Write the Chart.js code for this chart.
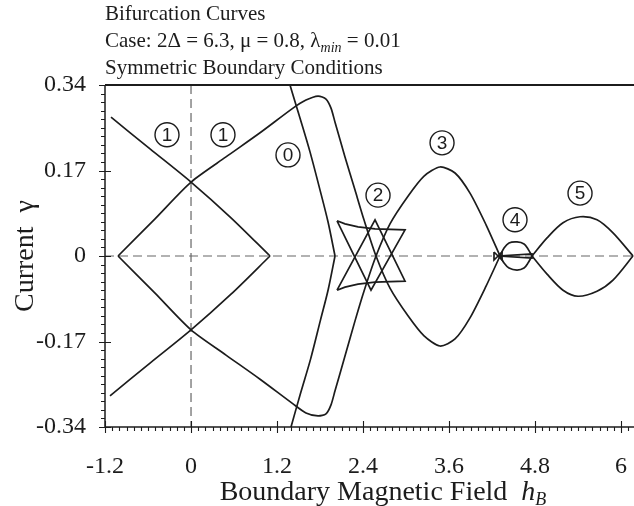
<!DOCTYPE html>
<html>
<head>
<meta charset="utf-8">
<script src="https://cdn.jsdelivr.net/npm/chart.js@4.4.1/dist/chart.umd.min.js"></script>
<style>
html, body { margin: 0; padding: 0; background: #fff; }
#wrap { width: 634px; height: 506px; position: relative; }
</style>
</head>
<body>
<div id="wrap"><canvas id="grafico"></canvas></div>
<script>
// tick labels
const xTickLabels = [-1.2, 0, 1.2, 2.4, 3.6, 4.8, 6];
const yTickLabels = [-0.34, -0.17, 0, 0.17, 0.34];

// branch 1 (the ">" pair)
const c1aUpperH = [-1.116, -0.572, 0, 0.558, 1.102];
const c1aUpperG = [0.276, 0.213, 0.147, 0.076, 0];
const c1aLowerH = [1.102, 0.558, 0, -0.572, -1.130];
const c1aLowerG = [0, -0.076, -0.147, -0.213, -0.278];

// branch 1 (the "<" pair) running into branch 3
const c1bH = [-1.018, -0.502, 0, 0.488, 0.963, 1.423, 1.604, 1.772, 1.883, 1.953, 2.009, 2.148, 2.288, 2.413, 2.581, 2.776, 3.027, 3.251, 3.474, 3.683, 3.892, 4.116, 4.311];
const c1bUpperG = [0, 0.074, 0.147, 0.197, 0.245, 0.294, 0.310, 0.318, 0.312, 0.294, 0.266, 0.197, 0.131, 0.072, 0, -0.064, -0.119, -0.159, -0.179, -0.165, -0.123, -0.060, 0];
const c1bLowerG = [0, -0.074, -0.147, -0.197, -0.245, -0.294, -0.312, -0.318, -0.314, -0.296, -0.268, -0.199, -0.129, -0.070, 0, 0.064, 0.119, 0.159, 0.177, 0.165, 0.125, 0.062, 0];

// branch 0
const c0UpperH = [1.325, 1.381, 1.521, 1.660, 1.800, 1.911, 2.009];
const c0UpperG = [0.370, 0.340, 0.274, 0.207, 0.131, 0.068, 0];
const c0LowerH = [2.009, 1.915, 1.805, 1.668, 1.530, 1.395, 1.339];
const c0LowerG = [0, -0.066, -0.128, -0.205, -0.272, -0.340, -0.370];

// branch 2 (star)
const c2DownH = [2.037, 2.148, 2.330, 2.567, 2.986, 2.511, 2.037];
const c2DownG = [0.070, 0.064, 0.058, 0.054, 0.052, -0.068, 0.070];
const c2UpH = [2.037, 2.148, 2.330, 2.567, 2.986, 2.567, 2.037];
const c2UpG = [-0.068, -0.062, -0.056, -0.052, -0.050, 0.072, -0.068];

// branch 4
const c4H = [4.311, 4.367, 4.436, 4.548, 4.646, 4.701, 4.757];
const c4UpperG = [0, 0.016, 0.026, 0.028, 0.024, 0.014, 0];
const c4LowerG = [0, -0.014, -0.024, -0.028, -0.024, -0.014, 0];
const c4WedgeH = [4.283, 4.757, 4.757, 4.283];
const c4WedgeG = [0, 0.004, -0.004, 0];
const c4TieH = [4.227, 4.339, 4.339, 4.227, 4.227];
const c4TieG = [0.008, -0.008, 0.008, -0.008, 0.008];

// branch 5
const c5UpperH = [4.757, 4.967, 5.190, 5.427, 5.664, 5.887, 6.166];
const c5UpperG = [0, 0.036, 0.066, 0.078, 0.072, 0.046, 0];
const c5LowerH = [4.757, 4.967, 5.190, 5.399, 5.664, 5.887, 6.166];
const c5LowerG = [0, -0.036, -0.068, -0.080, -0.070, -0.048, 0];

// circled branch numbers
const labelText = ['1', '1', '0', '2', '3', '4', '5'];
const labelH = [-0.335, 0.446, 1.353, 2.609, 3.502, 4.520, 5.427];
const labelG = [0.241, 0.241, 0.201, 0.121, 0.225, 0.072, 0.125];

const serif = '"Liberation Serif", "Times New Roman", serif';
const ink = '#1c1c1c';

function serie(h, g, tension) {
  return {
    data: h.map((v, i) => ({x: v, y: g[i]})),
    showLine: true,
    borderColor: ink,
    borderWidth: 1.7,
    pointRadius: 0,
    tension: tension,
    fill: false
  };
}

const decoracao = {
  id: 'decoracao',
  beforeDatasetsDraw(chart) {
    const {ctx, chartArea: a, scales: {x, y}} = chart;
    ctx.save();
    ctx.strokeStyle = '#666';
    ctx.lineWidth = 1.2;
    ctx.setLineDash([9, 5]);
    ctx.beginPath();
    const y0 = y.getPixelForValue(0);
    ctx.moveTo(a.left, y0);
    ctx.lineTo(a.right, y0);
    const x0 = x.getPixelForValue(0);
    ctx.moveTo(x0, a.top);
    ctx.lineTo(x0, a.bottom);
    ctx.stroke();
    ctx.restore();
  },
  afterDraw(chart) {
    const {ctx, chartArea: a, scales: {x, y}} = chart;
    ctx.save();
    ctx.strokeStyle = ink;
    ctx.fillStyle = ink;

    // frame
    ctx.lineWidth = 1.5;
    ctx.beginPath();
    ctx.moveTo(a.left, a.top);
    ctx.lineTo(a.left, a.bottom);
    ctx.lineTo(a.right, a.bottom);
    ctx.stroke();
    ctx.lineWidth = 2.2;
    ctx.beginPath();
    ctx.moveTo(a.left, a.top);
    ctx.lineTo(a.right, a.top);
    ctx.stroke();

    // ticks
    ctx.lineWidth = 1.1;
    ctx.beginPath();
    for (let i = 0; ; i++) {
      const v = -1.2 + i * 0.1;
      if (v > x.max + 1e-9) break;
      const px = Math.round(x.getPixelForValue(v)) + 0.5;
      const major = Math.abs(v / 1.2 - Math.round(v / 1.2)) < 1e-6;
      ctx.moveTo(px, a.bottom - (major ? 6 : 0));
      ctx.lineTo(px, a.bottom + (major ? 6 : 4));
    }
    for (let i = 0; i <= 40; i++) {
      const v = -0.34 + i * 0.017;
      const py = Math.round(y.getPixelForValue(v)) + 0.5;
      const major = i % 10 === 0;
      ctx.moveTo(a.left - (major ? 6 : 4), py);
      ctx.lineTo(a.left + (major ? 6 : 0), py);
    }
    ctx.stroke();

    // circled numbers
    ctx.lineWidth = 1.4;
    ctx.font = '19px "Liberation Sans", Arial, sans-serif';
    ctx.textAlign = 'center';
    ctx.textBaseline = 'middle';
    labelText.forEach((t, i) => {
      const px = x.getPixelForValue(labelH[i]);
      const py = y.getPixelForValue(labelG[i]);
      ctx.beginPath();
      ctx.arc(px, py, 12, 0, Math.PI * 2);
      ctx.stroke();
      ctx.fillText(t, px, py + 1);
    });

    // heading
    ctx.textAlign = 'left';
    ctx.textBaseline = 'alphabetic';
    ctx.font = '21px ' + serif;
    ctx.fillText('Bifurcation Curves', 105, 20);
    let cx = 105;
    const part1 = 'Case: 2\u0394 = 6.3, \u03bc = 0.8, \u03bb';
    ctx.fillText(part1, cx, 47);
    cx += ctx.measureText(part1).width;
    ctx.font = 'italic 14px ' + serif;
    ctx.fillText('min', cx, 52);
    cx += ctx.measureText('min').width;
    ctx.font = '21px ' + serif;
    ctx.fillText(' = 0.01', cx, 47);
    ctx.fillText('Symmetric Boundary Conditions', 105, 74);

    // x title
    const t1 = 'Boundary Magnetic Field  ';
    ctx.font = '28px ' + serif;
    const w1 = ctx.measureText(t1).width;
    ctx.font = 'italic 28px ' + serif;
    const w2 = ctx.measureText('h').width;
    ctx.font = 'italic 18px ' + serif;
    const w3 = ctx.measureText('B').width;
    let sx = 383 - (w1 + w2 + w3) / 2;
    ctx.font = '28px ' + serif;
    ctx.fillText(t1, sx, 500);
    sx += w1;
    ctx.font = 'italic 28px ' + serif;
    ctx.fillText('h', sx, 500);
    sx += w2;
    ctx.font = 'italic 18px ' + serif;
    ctx.fillText('B', sx, 505);

    // y title
    ctx.translate(33, 256);
    ctx.rotate(-Math.PI / 2);
    ctx.textAlign = 'center';
    ctx.font = '28px ' + serif;
    ctx.fillText('Current  \u03b3', 0, 0);
    ctx.restore();
  }
};

const ctx = document.getElementById('grafico').getContext('2d');

new Chart(ctx, {
  type: 'scatter',
  data: {
    datasets: [
      serie(c1aUpperH, c1aUpperG, 0.3),
      serie(c1aLowerH, c1aLowerG, 0.3),
      serie(c1bH, c1bUpperG, 0.25),
      serie(c1bH, c1bLowerG, 0.25),
      serie(c0UpperH, c0UpperG, 0.3),
      serie(c0LowerH, c0LowerG, 0.3),
      serie(c2DownH, c2DownG, 0),
      serie(c2UpH, c2UpG, 0),
      serie(c4H, c4UpperG, 0.3),
      serie(c4H, c4LowerG, 0.3),
      serie(c4WedgeH, c4WedgeG, 0),
      serie(c4TieH, c4TieG, 0),
      serie(c5UpperH, c5UpperG, 0.3),
      serie(c5LowerH, c5LowerG, 0.3)
    ]
  },
  options: {
    responsive: true,
    maintainAspectRatio: false,
    animation: false,
    layout: { padding: { top: 85, right: 0, left: 0, bottom: 0 } },
    plugins: {
      legend: { display: false },
      tooltip: { enabled: false }
    },
    scales: {
      x: {
        type: 'linear',
        min: -1.2,
        max: 6.18,
        grid: { display: false, drawTicks: false },
        border: { display: false },
        afterBuildTicks: s => { s.ticks = xTickLabels.map(v => ({value: v})); },
        afterFit: s => { s.height = 79; s.paddingLeft = 0; s.paddingRight = 0; },
        ticks: {
          autoSkip: false,
          maxRotation: 0,
          padding: 25,
          color: ink,
          font: { family: serif, size: 24 },
          callback: v => String(v)
        }
      },
      y: {
        type: 'linear',
        min: -0.34,
        max: 0.34,
        grid: { display: false, drawTicks: false },
        border: { display: false },
        afterBuildTicks: s => { s.ticks = yTickLabels.map(v => ({value: v})); },
        afterFit: s => { s.width = 105; s.paddingTop = 0; s.paddingBottom = 0; },
        ticks: {
          autoSkip: false,
          padding: 19,
          color: ink,
          font: { family: serif, size: 24 },
          callback: v => String(v)
        }
      }
    }
  },
  plugins: [decoracao]
});
</script>
</body>
</html>
